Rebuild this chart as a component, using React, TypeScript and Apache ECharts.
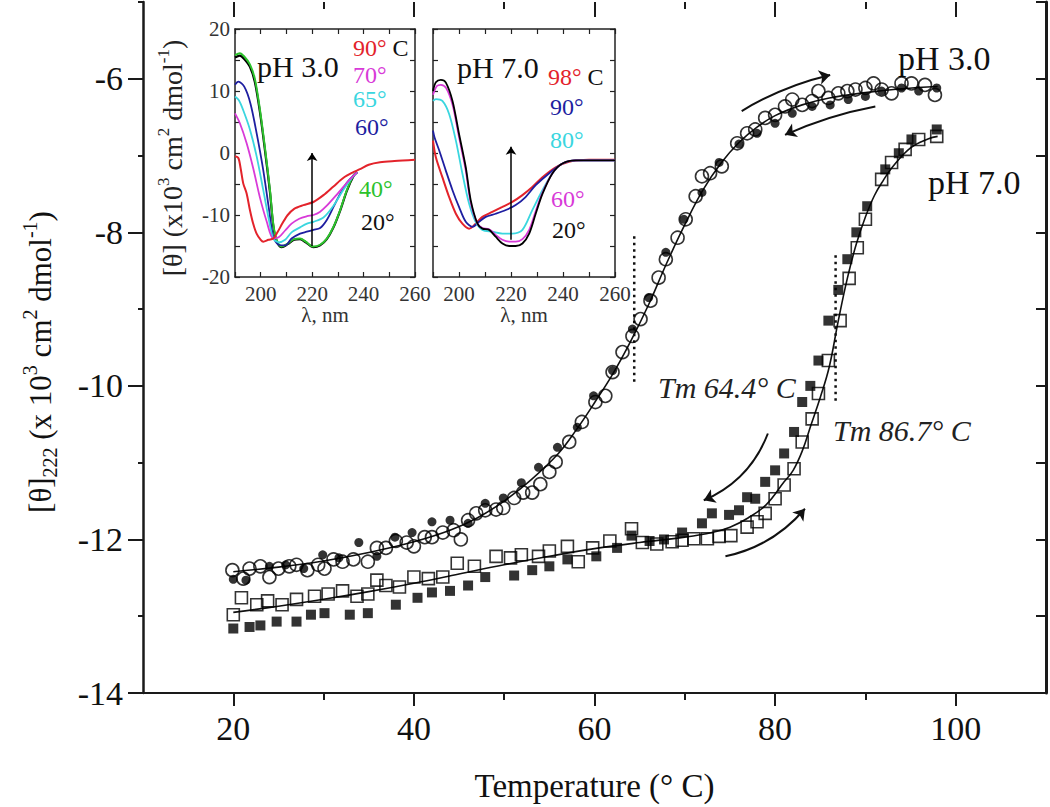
import React, { useEffect, useRef } from "react";
import * as echarts from "echarts";

const SERIF = '"Liberation Serif", "Times New Roman", Times, serif';

// ---- main axes ----
const xMajorTicks = [20, 40, 60, 80, 100];
const xMinorTicks = [30, 50, 70, 90];
const yMajorTicks = [-14, -12, -10, -8, -6];
const yMinorTicks = [-13, -11, -9, -7, -5];
const yRightTicks = [-14, -13, -12, -11, -10, -9, -8, -7, -6, -5];

// ---- pH 3.0 (circles) ----
const ph3Heating = [
  [19.9, -12.4], [21.1, -12.51], [21.8, -12.38], [23.0, -12.35], [24.0, -12.49], [25.0, -12.38],
  [26.2, -12.35], [27.0, -12.33], [28.2, -12.4], [29.4, -12.33], [30.1, -12.38], [31.1, -12.26],
  [32.1, -12.29], [33.3, -12.26], [34.9, -12.29], [35.9, -12.11], [36.9, -12.11], [38.0, -12.02],
  [39.2, -12.04], [40.0, -12.09], [41.2, -11.97], [42.0, -11.97], [43.2, -11.91], [44.4, -11.88],
  [45.2, -12.0], [46.0, -11.75], [46.9, -11.66], [47.9, -11.62], [49.1, -11.61], [49.9, -11.59],
  [51.1, -11.46], [52.1, -11.39], [53.1, -11.39], [54.0, -11.28], [55.0, -11.12], [55.7, -10.99],
  [57.2, -10.73], [58.6, -10.47], [60.1, -10.21], [61.2, -10.13], [62.0, -9.82], [63.1, -9.56],
  [64.2, -9.35], [65.1, -9.13], [66.2, -8.89], [67.1, -8.59], [67.9, -8.35], [69.2, -8.07],
  [70.1, -7.83], [71.2, -7.53], [71.9, -7.27], [72.8, -7.23], [74.1, -7.14], [75.8, -6.84],
  [76.9, -6.71], [77.8, -6.66], [78.9, -6.51], [80.0, -6.47], [81.1, -6.36], [81.9, -6.27],
  [83.0, -6.34], [84.1, -6.29], [84.8, -6.16], [85.9, -6.25], [87.0, -6.19], [88.0, -6.16],
  [88.9, -6.14], [90.0, -6.12], [90.9, -6.06], [91.8, -6.14], [92.9, -6.19], [94.0, -6.06],
  [95.1, -6.06], [96.6, -6.08], [97.7, -6.21],
];
const ph3Cooling = [
  [20.0, -12.52], [21.4, -12.53], [24.0, -12.35], [25.8, -12.33], [27.8, -12.38], [29.9, -12.2],
  [31.7, -12.24], [33.9, -12.04], [35.9, -12.22], [37.9, -11.97], [39.8, -11.91], [42.0, -11.77],
  [44.0, -11.75], [46.0, -11.79], [47.9, -11.53], [49.9, -11.46], [51.9, -11.26], [53.8, -11.06],
  [55.9, -10.8], [58.1, -10.54], [59.9, -10.13], [62.0, -9.8], [64.2, -9.26], [66.0, -8.85],
  [67.9, -8.26], [69.9, -7.83], [71.9, -7.48], [73.8, -7.09], [76.0, -6.85], [78.0, -6.71],
  [80.0, -6.58], [81.9, -6.45], [84.1, -6.36], [86.1, -6.34], [88.1, -6.27], [90.0, -6.23],
  [91.8, -6.16], [94.0, -6.12], [95.9, -6.16], [97.9, -6.12],
];
const ph3Fit = [
  [20, -12.42], [25, -12.36], [30, -12.28], [35, -12.17], [40, -12.03], [44, -11.88], [47, -11.72],
  [50, -11.5], [53, -11.22], [56, -10.88], [58, -10.57], [60, -10.22], [62, -9.85], [64, -9.42],
  [66, -8.94], [68, -8.4], [70, -7.9], [72, -7.45], [74, -7.1], [76, -6.83], [78, -6.63],
  [80, -6.48], [83, -6.34], [86, -6.25], [90, -6.18], [94, -6.13], [98, -6.1],
];

// ---- pH 7.0 (squares) ----
const ph7Heating = [
  [20.0, -12.98], [20.9, -12.76], [22.6, -12.85], [23.8, -12.8], [25.4, -12.85], [27.0, -12.78],
  [29.0, -12.74], [30.5, -12.71], [32.1, -12.67], [33.7, -12.74], [34.9, -12.71], [35.9, -12.53],
  [36.9, -12.6], [38.4, -12.62], [40.0, -12.49], [41.6, -12.51], [43.2, -12.49], [44.8, -12.31],
  [46.7, -12.35], [49.1, -12.22], [50.7, -12.24], [51.9, -12.2], [53.8, -12.22], [55.0, -12.15],
  [57.0, -12.09], [58.2, -12.29], [59.8, -12.11], [61.7, -12.02], [64.1, -11.86], [65.3, -12.04],
  [66.9, -12.06], [68.6, -12.03], [69.7, -12.01], [71.0, -11.99], [72.5, -11.99], [73.8, -11.96],
  [75.1, -11.95], [76.9, -11.84], [78.0, -11.77], [78.9, -11.66], [80.0, -11.47], [81.0, -11.29],
  [82.1, -11.08], [83.0, -10.73], [84.1, -10.43], [84.8, -10.1], [85.9, -9.67], [87.2, -9.15],
  [88.2, -8.6], [89.1, -8.2], [90.0, -7.83], [91.8, -7.31], [92.9, -7.09], [94.4, -6.92],
  [95.9, -6.79], [97.9, -6.75],
];
const ph7Cooling = [
  [20.0, -13.16], [21.8, -13.14], [23.0, -13.12], [24.8, -13.07], [27.0, -13.07], [28.6, -12.98],
  [30.1, -12.96], [32.9, -12.98], [34.9, -12.96], [38.0, -12.85], [40.4, -12.76], [42.0, -12.69],
  [44.0, -12.67], [46.0, -12.6], [47.9, -12.49], [51.1, -12.47], [53.1, -12.4], [55.0, -12.35],
  [57.0, -12.26], [60.2, -12.22], [62.5, -12.11], [64.1, -11.95], [66.1, -12.02], [67.7, -12.0],
  [69.7, -11.91], [71.9, -11.79], [73.0, -11.66], [74.9, -11.68], [76.0, -11.62], [76.9, -11.45],
  [77.8, -11.47], [78.9, -11.25], [80.0, -11.1], [81.0, -10.88], [82.1, -10.6], [83.0, -10.21],
  [83.9, -10.0], [84.8, -9.67], [85.9, -9.15], [87.0, -8.75], [88.0, -8.35], [89.0, -8.0],
  [90.2, -7.66], [92.2, -7.18], [93.7, -6.97], [95.1, -6.79], [97.9, -6.66],
];
const ph7Fit = [
  [20, -12.95], [25, -12.87], [30, -12.78], [35, -12.68], [40, -12.57], [45, -12.45], [50, -12.33],
  [55, -12.22], [60, -12.12], [65, -12.04], [70, -11.97], [73, -11.91], [75, -11.84], [77, -11.72],
  [79, -11.55], [81, -11.25], [82, -11.1], [83, -10.85], [84, -10.5], [85, -10.15], [86, -9.75],
  [87, -9.15], [88, -8.6], [89, -8.15], [90, -7.8], [91, -7.52], [92, -7.32], [93, -7.15],
  [95, -6.9], [97, -6.78], [98, -6.75],
];

// Tm markers
const tm3Line = [[64.4, -8.05], [64.4, -9.95]];
const tm7Line = [[86.7, -8.3], [86.7, -10.2]];

// direction arrows: start, end, curveness
const arrowsMain = [
  { from: [76.3, -6.42], to: [86.1, -5.95], curve: 0.08 },
  { from: [91.1, -6.36], to: [81.1, -6.73], curve: -0.06 },
  { from: [79.2, -10.62], to: [72.1, -11.49], curve: 0.21 },
  { from: [74.5, -12.22], to: [83.3, -11.6], curve: -0.17 },
];

// ---- inset pH 3.0 spectra (nm, theta) ----
const s3_20 = [
  [190, 15.4], [191.9, 15.7], [193.5, 15.2], [195.8, 13.9], [197.7, 11.5], [199.7, 6.6], [201.6, 0.6],
  [203.6, -6.3], [204.9, -11.8], [206.2, -14.2], [208.2, -15.2], [210.5, -14.7], [213, -14.0],
  [215.3, -13.9], [217.5, -14.4], [220.5, -15.2], [223.1, -14.9], [225.7, -13.9], [228.3, -12.0],
  [230.9, -9.3], [233.5, -6.1], [236.1, -3.7], [237.5, -3.1],
];
const s3_40 = [
  [190, 15.8], [191.9, 16.1], [193.5, 15.6], [195.8, 14.3], [197.7, 12.0], [199.7, 7.0], [201.6, 1.0],
  [203.6, -6.0], [204.9, -11.5], [206.2, -14.0], [208.2, -15.1], [210.5, -14.6], [213, -13.9],
  [215.3, -13.8], [217.5, -14.3], [220.5, -15.1], [223.1, -14.8], [225.7, -13.8], [228.3, -11.9],
  [230.9, -9.2], [233.5, -6.0], [236.1, -3.6], [237.5, -3.1],
];
const s3_60 = [
  [190, 11.0], [191.3, 11.5], [193.6, 10.7], [196, 8.0], [198.5, 3.0], [201, -2.8], [203.2, -9.0],
  [204.9, -13.5], [207, -14.8], [209.5, -14.9], [212, -13.8], [215.3, -13.0], [217.9, -12.7],
  [220.5, -12.4], [223.1, -12.1], [225.7, -10.8], [228.3, -8.7], [230.9, -6.6], [233.5, -4.8],
  [237.5, -3.1],
];
const s3_65 = [
  [190, 9.1], [191.5, 8.5], [193.2, 6.9], [195.8, 3.8], [198.4, -0.5], [201, -6.0], [203.2, -10.8],
  [204.9, -13.8], [207, -14.4], [209.5, -14.0], [212, -12.8], [215.3, -12.0], [218, -11.4],
  [220.5, -11.1], [224.4, -10.4], [228.3, -8.5], [232.2, -5.9], [235.5, -4.0], [237.5, -3.1],
];
const s3_70 = [
  [190, 6.4], [191.9, 4.8], [194.5, 1.6], [197.1, -2.5], [199.7, -7.2], [202.3, -11.0], [204.9, -13.8],
  [207, -13.6], [209.5, -12.5], [212, -11.4], [215, -10.6], [218, -10.2], [220.5, -10.0],
  [223, -9.5], [225.7, -8.5], [229.6, -6.7], [233.5, -4.8], [237.5, -3.1],
];
const s3_90 = [
  [190, -0.5], [191.3, -0.8], [192.2, -2.5], [193.2, -4.9], [194.5, -6.5], [195.8, -9.2],
  [197, -11.3], [198.4, -13.0], [200, -14.0], [201, -14.3], [203, -14.0], [204.9, -13.8],
  [206.5, -12.8], [208.5, -11.3], [210.5, -10.0], [213, -9.0], [216.6, -8.4], [220.5, -7.9],
  [224.4, -6.8], [228.3, -5.4], [232.2, -4.0], [235.5, -3.2], [238.6, -2.6], [242, -1.9],
  [246.4, -1.5], [252, -1.3], [260, -1.1],
];

// ---- inset pH 7.0 spectra ----
const s7_20 = [
  [190, 10.0], [191.1, 11.4], [193.0, 11.8], [194.9, 11.4], [197.5, 8.4], [200.0, 3.1], [202.6, -2.3],
  [204.5, -7.6], [207.1, -11.4], [209.0, -12.2], [211.6, -12.4], [214.1, -13.5], [216.7, -14.6],
  [219.3, -15.0], [221.8, -15.0], [224.4, -14.6], [227.0, -13.0], [229.5, -9.8], [232.1, -6.6],
  [235.9, -3.3], [239.8, -1.7], [244.9, -1.2], [260, -1.2],
];
const s7_60 = [
  [190, 9.4], [191.5, 10.8], [193, 11.0], [195, 10.5], [197.5, 7.8], [200, 2.6], [202.6, -2.8],
  [204.5, -8.0], [207.1, -11.4], [209, -12.1], [211.6, -12.3], [214.1, -13.2], [216.7, -14.0],
  [219.3, -14.3], [221.8, -14.3], [224.4, -13.9], [227, -12.4], [229.5, -9.4], [232.1, -6.4],
  [235.9, -3.3], [239.8, -1.7], [244.9, -1.2], [260, -1.2],
];
const s7_80 = [
  [190, 8.4], [191.1, 8.7], [193.6, 8.4], [196.2, 6.3], [198.8, 2.0], [201.3, -3.3], [203.9, -8.2],
  [206.4, -11.1], [209, -12.4], [212.8, -12.7], [216.7, -13.0], [220.5, -13.0], [224.4, -12.4],
  [228.2, -9.2], [232.1, -6.0], [235.9, -3.3], [239.8, -1.7], [244.9, -1.2], [260, -1.2],
];
const s7_90 = [
  [190, 3.6], [190.6, 2.5], [192.4, 0.4], [194.9, -2.8], [197.5, -6.0], [200, -8.7], [202.6, -11.1],
  [205.2, -11.9], [207.7, -11.1], [210.3, -10.3], [214.1, -9.8], [218, -9.2], [221.8, -8.4],
  [225.6, -7.1], [229.5, -5.2], [234.6, -3.3], [239.8, -1.7], [244.9, -1.2], [260, -1.2],
];
const s7_98 = [
  [190, 2.0], [191.1, -0.7], [193.6, -3.9], [196.2, -7.1], [198.8, -9.8], [201.3, -11.4],
  [203.9, -12.2], [206.4, -11.4], [209, -10.3], [212.8, -9.5], [216.7, -8.7], [220.5, -7.9],
  [224.4, -6.8], [228.2, -5.5], [232.1, -3.9], [237.2, -2.3], [242.3, -1.4], [250, -1.1], [260, -1.1],
];
const inset3Arrow = [[220, -15], [220, 0]];
const inset7Arrow = [[220, -14], [220, 1]];

const C = {
  red: "#e3232b",
  magenta: "#d83ad8",
  cyan: "#3ad6df",
  blue: "#1e1ea0",
  green: "#2cc22c",
  black: "#000000",
};

export default function App() {
  const ref = useRef<HTMLDivElement>(null);
  useEffect(() => {
    if (!ref.current) return;
    const chart = echarts.init(ref.current, undefined, { renderer: "svg" });
    const axisCol = "#1a1a1a";
    const noSplit = { show: false };

    const spec = (data: number[][], color: string, xi: number, yi: number, w = 1.8) => ({
      type: "line",
      xAxisIndex: xi,
      yAxisIndex: yi,
      data,
      symbol: "none",
      smooth: 0.3,
      lineStyle: { color, width: w },
      z: 3,
    });

    const insetX = (gi: number, pos: string, labels: boolean) => ({
      type: "value",
      gridIndex: gi,
      min: 190,
      max: 260,
      interval: 10,
      position: pos,
      axisLine: { show: true, onZero: false, lineStyle: { color: "#222", width: 1.5 } },
      axisTick: { show: true, inside: true, length: 5, lineStyle: { color: "#222", width: 1.2 } },
      axisLabel: labels
        ? {
            show: true,
            margin: 6,
            fontSize: 21,
            fontFamily: SERIF,
            color: "#333",
            formatter: (v: number) => (v % 20 === 0 ? String(v) : ""),
          }
        : { show: false },
      splitLine: noSplit,
      name: labels ? "λ, nm" : "",
      nameLocation: "middle",
      nameGap: 27,
      nameTextStyle: { fontSize: 21, fontFamily: SERIF, color: "#333" },
    });
    const insetY = (gi: number, pos: string, labels: boolean) => ({
      type: "value",
      gridIndex: gi,
      min: -20,
      max: 20,
      interval: 5,
      position: pos,
      axisLine: { show: true, onZero: false, lineStyle: { color: "#222", width: 1.5 } },
      axisTick: { show: true, inside: true, length: 5, lineStyle: { color: "#222", width: 1.2 } },
      axisLabel: labels
        ? {
            show: true,
            margin: 5,
            fontSize: 21,
            fontFamily: SERIF,
            color: "#333",
            formatter: (v: number) => (v % 10 === 0 ? String(v) : ""),
          }
        : { show: false },
      splitLine: noSplit,
    });

    const legendText = (x: number, y: number, text: string, fill: string) => ({
      type: "text",
      x,
      y,
      style: { text, fontSize: 24, lineHeight: 22, fontFamily: SERIF, fill, verticalAlign: "middle" },
    });

    const option: any = {
      animation: false,
      backgroundColor: "#ffffff",
      grid: [
        { left: 143, top: 2, width: 903, height: 691 },
        { left: 235, top: 29, width: 180, height: 248 },
        { left: 433, top: 29, width: 182, height: 248 },
      ],
      xAxis: [
        {
          type: "value",
          gridIndex: 0,
          min: 10,
          max: 110,
          position: "bottom",
          axisLine: { show: true, onZero: false, lineStyle: { color: axisCol, width: 2 } },
          axisTick: { show: true, customValues: xMajorTicks, length: 13, lineStyle: { color: axisCol, width: 2 } },
          axisLabel: { show: true, customValues: xMajorTicks, margin: 18, fontSize: 34, fontFamily: SERIF, color: "#111" },
          splitLine: noSplit,
          name: "Temperature (° C)",
          nameLocation: "middle",
          nameGap: 76,
          nameTextStyle: { fontSize: 33, fontFamily: SERIF, color: "#111" },
        },
        {
          type: "value",
          gridIndex: 0,
          min: 10,
          max: 110,
          position: "bottom",
          axisLine: { show: false, onZero: false },
          axisTick: { show: true, customValues: xMinorTicks, length: 7, lineStyle: { color: axisCol, width: 2 } },
          axisLabel: { show: false },
          splitLine: noSplit,
        },
        {
          type: "value",
          gridIndex: 0,
          min: 10,
          max: 110,
          position: "top",
          axisLine: { show: false, onZero: false },
          axisTick: { show: true, inside: true, customValues: xMajorTicks, length: 15, lineStyle: { color: axisCol, width: 2 } },
          axisLabel: { show: false },
          splitLine: noSplit,
        },
        {
          type: "value",
          gridIndex: 0,
          min: 10,
          max: 110,
          position: "top",
          axisLine: { show: false, onZero: false },
          axisTick: { show: true, inside: true, customValues: xMinorTicks, length: 7, lineStyle: { color: axisCol, width: 2 } },
          axisLabel: { show: false },
          splitLine: noSplit,
        },
        insetX(1, "bottom", true),
        insetX(1, "top", false),
        insetX(2, "bottom", true),
        insetX(2, "top", false),
      ],
      yAxis: [
        {
          type: "value",
          gridIndex: 0,
          min: -14,
          max: -5,
          position: "left",
          axisLine: { show: true, onZero: false, lineStyle: { color: axisCol, width: 2.5 } },
          axisTick: { show: true, customValues: yMajorTicks, length: 15, lineStyle: { color: axisCol, width: 2 } },
          axisLabel: { show: true, customValues: yMajorTicks, margin: 20, fontSize: 34, fontFamily: SERIF, color: "#111" },
          splitLine: noSplit,
        },
        {
          type: "value",
          gridIndex: 0,
          min: -14,
          max: -5,
          position: "left",
          axisLine: { show: false, onZero: false },
          axisTick: { show: true, customValues: yMinorTicks, length: 5, lineStyle: { color: axisCol, width: 2 } },
          axisLabel: { show: false },
          splitLine: noSplit,
        },
        {
          type: "value",
          gridIndex: 0,
          min: -14,
          max: -5,
          position: "right",
          axisLine: { show: true, onZero: false, lineStyle: { color: axisCol, width: 3 } },
          axisTick: { show: true, inside: true, customValues: yRightTicks, length: 10, lineStyle: { color: axisCol, width: 2 } },
          axisLabel: { show: false },
          splitLine: noSplit,
        },
        insetY(1, "left", true),
        insetY(1, "right", false),
        insetY(2, "left", false),
        insetY(2, "right", false),
      ],
      series: [
        // fits
        { type: "line", xAxisIndex: 0, yAxisIndex: 0, data: ph3Fit, symbol: "none", smooth: 0.4, lineStyle: { color: "#111", width: 1.6 }, z: 2 },
        { type: "line", xAxisIndex: 0, yAxisIndex: 0, data: ph7Fit, symbol: "none", smooth: 0.4, lineStyle: { color: "#111", width: 1.6 }, z: 2 },
        // cooling filled markers
        { type: "scatter", xAxisIndex: 0, yAxisIndex: 0, data: ph3Cooling, symbol: "circle", symbolSize: 9, itemStyle: { color: "#000" }, z: 3 },
        { type: "scatter", xAxisIndex: 0, yAxisIndex: 0, data: ph7Cooling, symbol: "rect", symbolSize: 10, itemStyle: { color: "#000" }, z: 3 },
        // heating open markers
        {
          type: "scatter", xAxisIndex: 0, yAxisIndex: 0, data: ph3Heating, symbol: "circle", symbolSize: 13,
          itemStyle: { color: "rgba(255,255,255,0)", borderColor: "#000", borderWidth: 1.6 }, z: 4,
        },
        {
          type: "scatter", xAxisIndex: 0, yAxisIndex: 0, data: ph7Heating, symbol: "rect", symbolSize: 12,
          itemStyle: { color: "rgba(255,255,255,0)", borderColor: "#000", borderWidth: 1.6 }, z: 4,
        },
        // Tm dotted markers
        { type: "line", xAxisIndex: 0, yAxisIndex: 0, data: tm3Line, symbol: "none", lineStyle: { color: "#111", width: 2.5, type: [2.5, 4] }, z: 2 },
        { type: "line", xAxisIndex: 0, yAxisIndex: 0, data: tm7Line, symbol: "none", lineStyle: { color: "#111", width: 2.5, type: [2.5, 4] }, z: 2 },
        // curved direction arrows
        {
          type: "lines",
          coordinateSystem: "cartesian2d",
          xAxisIndex: 0,
          yAxisIndex: 0,
          symbol: ["none", "arrow"],
          symbolSize: 11,
          silent: true,
          lineStyle: { color: "#111", width: 2, opacity: 1 },
          data: arrowsMain.map((a) => ({ coords: [a.from, a.to], lineStyle: { curveness: a.curve } })),
          z: 5,
        },
        // inset pH 3.0
        spec(s3_20, C.black, 4, 3, 2.2),
        spec(s3_40, C.green, 4, 3, 2),
        spec(s3_60, C.blue, 4, 3),
        spec(s3_65, C.cyan, 4, 3),
        spec(s3_70, C.magenta, 4, 3),
        {
          ...spec(s3_90, C.red, 4, 3, 2),
          markLine: {
            silent: true,
            symbol: ["none", "arrow"],
            symbolSize: 8,
            label: { show: false },
            lineStyle: { color: "#000", width: 1.5, type: "solid" },
            data: [[{ coord: inset3Arrow[0] }, { coord: inset3Arrow[1] }]],
          },
        },
        // inset pH 7.0
        spec(s7_98, C.red, 6, 5, 2),
        spec(s7_90, C.blue, 6, 5),
        spec(s7_80, C.cyan, 6, 5),
        spec(s7_60, C.magenta, 6, 5),
        {
          ...spec(s7_20, C.black, 6, 5, 1.8),
          markLine: {
            silent: true,
            symbol: ["none", "arrow"],
            symbolSize: 8,
            label: { show: false },
            lineStyle: { color: "#000", width: 1.5, type: "solid" },
            data: [[{ coord: inset7Arrow[0] }, { coord: inset7Arrow[1] }]],
          },
        },
      ],
      graphic: [
        {
          type: "text",
          x: 40,
          y: 362,
          rotation: Math.PI / 2,
          style: {
            text: "{a|[θ]}{s|222}{a| (x 10}{p|3}{a| cm}{p|2}{a| dmol}{p|-1}{a|)}",
            align: "center",
            verticalAlign: "middle",
            fill: "#111",
            rich: {
              a: { fontSize: 31, fontFamily: SERIF, lineHeight: 40, fill: "#111" },
              s: { fontSize: 20, fontFamily: SERIF, lineHeight: 18, verticalAlign: "bottom", fill: "#111" },
              p: { fontSize: 20, fontFamily: SERIF, lineHeight: 22, verticalAlign: "top", fill: "#111" },
            },
          },
        },
        {
          type: "text",
          x: 172,
          y: 158,
          rotation: Math.PI / 2,
          style: {
            text: "{a|[θ] (x10}{p|3}{a| cm}{p|2}{a| dmol}{p|-1}{a|)}",
            align: "center",
            verticalAlign: "middle",
            fill: "#222",
            rich: {
              a: { fontSize: 28, fontFamily: SERIF, lineHeight: 34, fill: "#222" },
              p: { fontSize: 17, fontFamily: SERIF, lineHeight: 18, verticalAlign: "top", fill: "#222" },
            },
          },
        },
        { type: "text", x: 898, y: 58, style: { text: "pH 3.0", fontSize: 34, fontFamily: SERIF, fill: "#111", verticalAlign: "middle" } },
        { type: "text", x: 928, y: 182, style: { text: "pH 7.0", fontSize: 34, fontFamily: SERIF, fill: "#111", verticalAlign: "middle" } },
        { type: "text", x: 658, y: 387, style: { text: "Tm 64.4° C", fontSize: 30, fontStyle: "italic", fontFamily: SERIF, fill: "#222", verticalAlign: "middle" } },
        { type: "text", x: 833, y: 430, style: { text: "Tm 86.7° C", fontSize: 30, fontStyle: "italic", fontFamily: SERIF, fill: "#222", verticalAlign: "middle" } },
        // inset 1 labels
        { type: "text", x: 257, y: 66, style: { text: "pH 3.0", fontSize: 30, lineHeight: 28, fontFamily: SERIF, fill: "#111", verticalAlign: "middle" } },
        {
          type: "text", x: 353, y: 48,
          style: {
            text: "{r|90°}{k| C}", verticalAlign: "middle",
            rich: {
              r: { fontSize: 24, lineHeight: 22, fontFamily: SERIF, fill: C.red },
              k: { fontSize: 24, lineHeight: 22, fontFamily: SERIF, fill: "#111" },
            },
          },
        },
        legendText(353, 75, "70°", C.magenta),
        legendText(353, 99, "65°", C.cyan),
        legendText(355, 127, "60°", C.blue),
        legendText(359, 189, "40°", C.green),
        legendText(361, 222, "20°", "#111"),
        // inset 2 labels
        { type: "text", x: 457, y: 67, style: { text: "pH 7.0", fontSize: 30, lineHeight: 28, fontFamily: SERIF, fill: "#111", verticalAlign: "middle" } },
        {
          type: "text", x: 548, y: 77,
          style: {
            text: "{r|98°}{k| C}", verticalAlign: "middle",
            rich: {
              r: { fontSize: 24, lineHeight: 22, fontFamily: SERIF, fill: C.red },
              k: { fontSize: 24, lineHeight: 22, fontFamily: SERIF, fill: "#111" },
            },
          },
        },
        legendText(550, 107, "90°", C.blue),
        legendText(550, 140, "80°", C.cyan),
        legendText(551, 199, "60°", C.magenta),
        legendText(552, 230, "20°", "#111"),
      ],
    };
    chart.setOption(option);
    return () => chart.dispose();
  }, []);

  return (
    <div
      ref={ref}
      style={{ position: "absolute", left: 0, top: 0, width: 1050, height: 807, background: "#fff" }}
    />
  );
}
